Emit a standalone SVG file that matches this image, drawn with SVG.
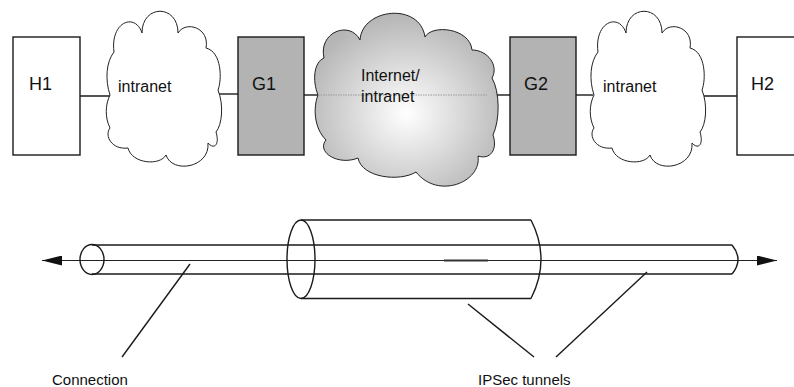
<svg xmlns="http://www.w3.org/2000/svg" width="794" height="387" viewBox="0 0 794 387">
<style>
.box{stroke:#1a1a1a;stroke-width:1.4}
.host{fill:#ffffff}
.gw{fill:#b3b3b3}
.cloud{stroke:#222;stroke-width:1}
.ln{stroke:#1a1a1a;stroke-width:1.4;fill:none}
.thin{stroke:#222;stroke-width:1.2;fill:none}
.t{font-family:"Liberation Sans",Arial,sans-serif;fill:#111}
.big{font-size:18px}
.mid{font-size:16px}
.sm{font-size:15px}
</style>
<defs>
<radialGradient id="cg" cx="50%" cy="58%" r="58%">
<stop offset="0" stop-color="#ffffff"/>
<stop offset="1" stop-color="#b5b5b5"/>
</radialGradient>
<path id="cloudA" d="M110,95 C105,80 106,62 114,52 C110,22 135,12 142,33 C142,4 178,4 178,33 C186,20 210,28 206,48 C222,52 222,80 218,90 C224,105 222,125 216,132 C220,145 214,150 208,143 C210,168 172,174 166,155 C160,166 132,164 128,148 C112,150 104,136 110,128 C105,118 105,105 110,95 Z"/>
<marker id="ah" viewBox="0 0 20 10" refX="20" refY="5" markerWidth="20" markerHeight="10" markerUnits="userSpaceOnUse" orient="auto-start-reverse">
<path d="M0,0 L20,5 L0,10 Z" fill="#111"/>
</marker>
</defs>

<g id="connectors">
<line class="ln" x1="78" y1="96" x2="111" y2="96"/>
<line class="ln" x1="213" y1="94" x2="238" y2="94"/>
<line class="ln" x1="304" y1="95" x2="319" y2="95"/>
<line class="ln" x1="487" y1="95" x2="510" y2="95"/>
<line class="ln" x1="576" y1="95" x2="593" y2="95"/>
<line class="ln" x1="700" y1="96" x2="737" y2="96"/>
</g>

<g id="H1">
<rect class="box host" x="13" y="37" width="67" height="118"/>
<text class="t big" x="29" y="90">H1</text>
</g>

<g id="cloud1">
<use href="#cloudA" class="cloud" fill="#ffffff"/>
<text class="t mid" x="118" y="92">intranet</text>
</g>

<g id="G1">
<rect class="box gw" x="238" y="37" width="66" height="118"/>
<text class="t big" x="252" y="90">G1</text>
</g>

<g id="cloud2">
<path class="cloud" fill="url(#cg)" d="M318,95 C312,80 314,62 324,58 C318,32 350,20 360,40 C362,8 420,2 425,37 C432,24 470,28 472,50 C488,50 499,66 492,78 C500,92 500,120 493,135 C498,150 490,160 478,156 C482,182 438,200 416,172 C400,182 362,178 358,158 C338,166 316,152 326,140 C314,128 313,108 318,95 Z"/>
<line x1="318" y1="95" x2="488" y2="95" stroke="#9a9a9a" stroke-width="1" stroke-dasharray="1.5 1"/>
<text class="t mid" x="361" y="81">Internet/</text>
<text class="t mid" x="361" y="101.5">intranet</text>
</g>

<g id="G2">
<rect class="box gw" x="510" y="37" width="66" height="118"/>
<text class="t big" x="524" y="90">G2</text>
</g>

<g id="cloud3">
<use href="#cloudA" class="cloud" fill="#ffffff" transform="translate(484,0)"/>
<text class="t mid" x="603" y="92">intranet</text>
</g>

<g id="H2">
<rect class="box host" x="737" y="37" width="70" height="118"/>
<text class="t big" x="751" y="90">H2</text>
</g>

<g id="tunnels">
<line class="thin" x1="42" y1="260.5" x2="777" y2="260.5" marker-start="url(#ah)" marker-end="url(#ah)"/>
<line x1="444" y1="260.5" x2="488" y2="260.5" stroke="#333" stroke-width="2.2"/>
<line class="ln" x1="92" y1="245" x2="732" y2="245"/>
<line class="ln" x1="92" y1="274" x2="732" y2="274"/>
<ellipse class="ln" cx="92" cy="259.5" rx="12" ry="15"/>
<path class="ln" d="M732,245 Q744,259.5 732,274"/>
<line class="ln" x1="301" y1="220" x2="531" y2="220"/>
<line class="ln" x1="301" y1="298.5" x2="531" y2="298.5"/>
<ellipse class="ln" cx="301" cy="259.25" rx="14" ry="39.25"/>
<path class="ln" d="M531,220 Q551,259.25 531,298.5"/>
</g>

<g id="leaders">
<line class="ln" x1="190" y1="264" x2="122" y2="357"/>
<line class="ln" x1="468" y1="304" x2="534" y2="357"/>
<line class="ln" x1="647" y1="272" x2="556" y2="357"/>
</g>

<g id="labels">
<text class="t sm" x="52" y="385">Connection</text>
<text class="t sm" x="478" y="385">IPSec tunnels</text>
</g>
</svg>
